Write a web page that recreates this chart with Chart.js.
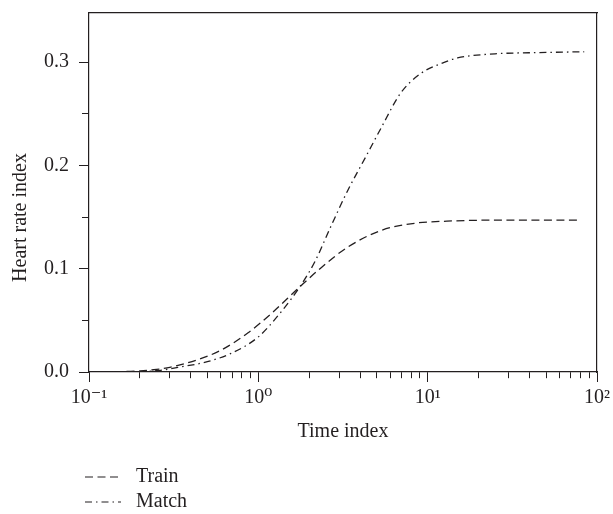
<!DOCTYPE html>
<html>
<head>
<meta charset="utf-8">
<script src="https://cdn.jsdelivr.net/npm/chart.js@4.4.1/dist/chart.umd.min.js"></script>
<style>
    html, body { margin: 0; padding: 0; background: #fff; }
    #wrap { width: 613px; height: 514px; }
</style>
</head>
<body>
<div id="wrap"><canvas id="heartChart" width="613" height="514"></canvas></div>
<script>
//Data.
const trainTime = [0.1, 0.15, 0.2, 0.25, 0.3, 0.44, 0.6, 0.87, 1.2, 1.72, 2.35, 3.38, 5.3, 8.4, 13, 25, 50, 77];
const trainValues = [0, 0.0003, 0.001, 0.0025, 0.0045, 0.012, 0.021, 0.038, 0.057, 0.081, 0.101, 0.121, 0.137, 0.144, 0.146, 0.147, 0.147, 0.147];

const matchTime = [0.1, 0.2, 0.25, 0.35, 0.5, 0.69, 1.0, 1.36, 1.8, 2.16, 2.7, 3.38, 4.3, 5.3, 6.93, 9.1, 12.2, 15, 25, 40, 84];
const matchValues = [0, 0.0003, 0.0012, 0.005, 0.010, 0.018, 0.034, 0.058, 0.085, 0.107, 0.142, 0.176, 0.208, 0.236, 0.27, 0.289, 0.299, 0.304, 0.308, 0.309, 0.31];

const seriesNames = ["Train", "Match"];

//Tick-värden och etiketter.
const xTickValues = [0.1, 0.2, 0.3, 0.4, 0.5, 0.6, 0.7, 0.8, 0.9,
    1, 2, 3, 4, 5, 6, 7, 8, 9,
    10, 20, 30, 40, 50, 60, 70, 80, 90, 100];
const xMajorValues = [0.1, 1, 10, 100];
const xMajorLabels = ["10\u207B\u00B9", "10\u2070", "10\u00B9", "10\u00B2"];
const yTickValues = [0, 0.05, 0.1, 0.15, 0.2, 0.25, 0.3];
const yMajorLabels = ["0.0", "0.1", "0.2", "0.3"];

const ink = "#231f20";
const serif = "'Liberation Serif', 'DejaVu Serif', serif";
const fontSize = 20;

function toPoints(xs, ys) {
    return xs.map((x, i) => ({ x: x, y: ys[i] }));
}

function isMajorX(v) {
    return xMajorValues.some(m => Math.abs(m - v) / m < 1e-6);
}

function isMajorY(v) {
    return Math.abs(v * 10 - Math.round(v * 10)) < 1e-6;
}

/**Ritar legenden under diagrammet, en rad per serie. */
const stackedLegend = {
    id: "stackedLegend",
    afterDraw(chart) {
        const ctx = chart.ctx;
        ctx.save();
        ctx.font = fontSize + "px " + serif;
        ctx.fillStyle = ink;
        ctx.textBaseline = "middle";
        chart.data.datasets.forEach((ds, i) => {
            const y = 477 + i * 25;
            ctx.strokeStyle = ink;
            ctx.lineWidth = 1.2;
            ctx.setLineDash(ds.borderDash || []);
            ctx.beginPath();
            ctx.moveTo(85, y);
            ctx.lineTo(121, y);
            ctx.stroke();
            ctx.setLineDash([]);
            ctx.fillText(ds.label, 136, y);
        });
        ctx.restore();
    }
};

const ctx = document.getElementById("heartChart");

new Chart(ctx, {
    type: "line",
    data: {
        datasets: [{
            label: seriesNames[0],
            data: toPoints(trainTime, trainValues),
            borderColor: ink,
            borderWidth: 1.3,
            borderDash: [8, 4.5],
            pointRadius: 0,
            cubicInterpolationMode: "monotone",
            fill: false
        }, {
            label: seriesNames[1],
            data: toPoints(matchTime, matchValues),
            borderColor: ink,
            borderWidth: 1.3,
            borderDash: [7, 4, 1.5, 4],
            pointRadius: 0,
            cubicInterpolationMode: "monotone",
            fill: false
        }]
    },
    options: {
        responsive: false,
        animation: false,
        layout: { padding: { left: 0, right: 16, top: 13, bottom: 62 } },
        plugins: {
            legend: { display: false },
            tooltip: { enabled: false }
        },
        scales: {
            x: {
                type: "logarithmic",
                position: "bottom",
                min: 0.1,
                max: 100,
                afterBuildTicks: scale => {
                    scale.ticks = xTickValues.map(v => ({ value: v }));
                },
                afterFit: scale => {
                    scale.height = 80;
                    scale.paddingLeft = 0;
                    scale.paddingRight = 0;
                },
                border: { color: ink, width: 1.2 },
                grid: {
                    drawOnChartArea: false,
                    tickLength: 10,
                    tickColor: ink,
                    tickWidth: 1,
                    tickBorderDash: c => (c.tick && isMajorX(c.tick.value)) ? [] : [6, 30]
                },
                ticks: {
                    autoSkip: false,
                    maxRotation: 0,
                    padding: 4,
                    color: ink,
                    font: { family: serif, size: fontSize },
                    callback: v => {
                        const i = xMajorValues.findIndex(m => Math.abs(m - v) / m < 1e-6);
                        return i >= 0 ? xMajorLabels[i] : "";
                    }
                },
                title: {
                    display: true,
                    text: "Time index",
                    color: ink,
                    font: { family: serif, size: fontSize },
                    padding: { top: 0, bottom: 8 }
                }
            },
            xTop: {
                type: "logarithmic",
                position: "top",
                min: 0.1,
                max: 100,
                afterFit: scale => { scale.height = 0; },
                border: { color: ink, width: 1.2 },
                grid: { drawOnChartArea: false, drawTicks: false },
                ticks: { display: false }
            },
            y: {
                min: 0,
                max: 0.3475,
                afterBuildTicks: scale => {
                    scale.ticks = yTickValues.map(v => ({ value: v }));
                },
                afterFit: scale => {
                    scale.width = 89;
                    scale.paddingTop = 0;
                    scale.paddingBottom = 0;
                },
                border: { color: ink, width: 1.2 },
                grid: {
                    drawOnChartArea: false,
                    tickLength: 10,
                    tickColor: ink,
                    tickWidth: 1,
                    tickBorderDash: c => (c.tick && isMajorY(c.tick.value)) ? [] : [0, 3, 7, 30]
                },
                ticks: {
                    autoSkip: false,
                    padding: 10,
                    color: ink,
                    font: { family: serif, size: fontSize },
                    callback: v => isMajorY(v) ? yMajorLabels[Math.round(v * 10)] : ""
                },
                title: {
                    display: true,
                    text: "Heart rate index\u00A0\u00A0\u00A0\u00A0\u00A0\u00A0\u00A0\u00A0\u00A0\u00A0",
                    color: ink,
                    font: { family: serif, size: fontSize },
                    padding: { top: 9, bottom: 0 }
                }
            },
            yRight: {
                position: "right",
                min: 0,
                max: 0.3475,
                afterFit: scale => { scale.width = 0; },
                border: { color: ink, width: 1.2 },
                grid: { drawOnChartArea: false, drawTicks: false },
                ticks: { display: false }
            }
        }
    },
    plugins: [stackedLegend]
});
</script>
</body>
</html>
